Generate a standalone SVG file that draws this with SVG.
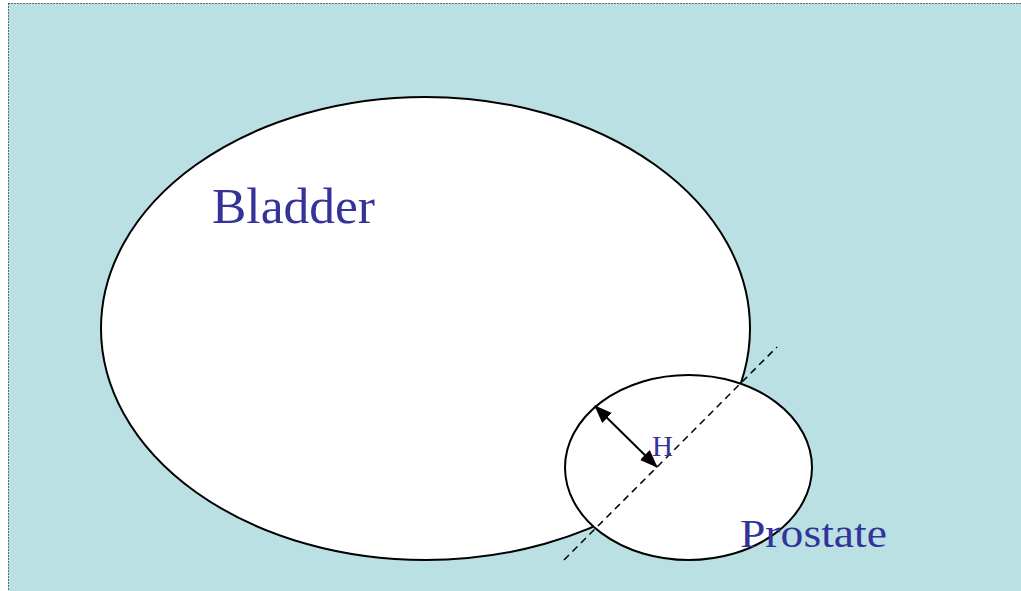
<svg xmlns="http://www.w3.org/2000/svg" width="1021" height="591" viewBox="0 0 1021 591">
<style>
.organ{fill:#ffffff;stroke:#000000;stroke-width:2}
.label{font-family:"Liberation Serif","Times New Roman",serif;fill:#333399}
.border{stroke:#000000;stroke-width:1;stroke-dasharray:1 2;fill:none}
</style>
<defs>
<marker id="head" viewBox="0 0 18 14" refX="17" refY="7" markerWidth="18" markerHeight="14" markerUnits="userSpaceOnUse" orient="auto-start-reverse">
<path d="M0,0 L18,7 L0,14 Z" fill="#000000"/>
</marker>
</defs>
<rect x="0" y="0" width="1021" height="591" fill="#ffffff"/>
<rect x="8" y="3" width="1013" height="588" fill="#bae0e3"/>
<line class="border" x1="8.5" y1="3.5" x2="1021" y2="3.5"/>
<line class="border" x1="8.5" y1="3.5" x2="8.5" y2="591"/>
<g id="bladder">
<ellipse class="organ" cx="425.5" cy="328.5" rx="324.5" ry="231.5"/>
<text class="label" x="212" y="223" font-size="50" textLength="163" lengthAdjust="spacingAndGlyphs">Bladder</text>
</g>
<g id="prostate">
<ellipse class="organ" cx="688.5" cy="467.5" rx="123.5" ry="92.5"/>
<text class="label" x="740" y="547" font-size="39" textLength="147" lengthAdjust="spacingAndGlyphs">Prostate</text>
</g>
<g id="connectors">
<line x1="564" y1="560" x2="777" y2="347" stroke="#000000" stroke-width="1.5" stroke-dasharray="7 5"/>
<line x1="595" y1="406" x2="657" y2="467" stroke="#000000" stroke-width="2" marker-start="url(#head)" marker-end="url(#head)"/>
</g>
<g id="h-label">
<text class="label" x="652" y="456" font-size="29">H</text>
</g>
</svg>
